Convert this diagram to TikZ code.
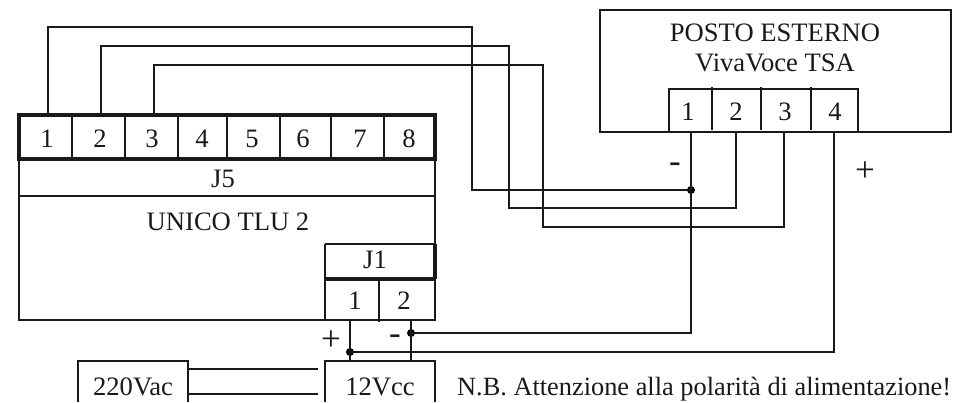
\documentclass[tikz,border=0pt]{standalone}
\usepackage{fontspec}
\setmainfont{Liberation Serif}
\tikzset{
  wire/.style={line width=1.7pt,black!90},
  frame/.style={line width=2.2pt,black!90},
  heavy/.style={line width=3.2pt,black!90},
  tick/.style={line width=1.7pt,black!90},
  lbl/.style={anchor=base,inner sep=0pt,font=\fontsize{26.6}{30}\selectfont,text=black!90},
  polarity/.style={inner sep=0pt,font=\fontsize{35}{35}\selectfont,text=black!90},
  junction/.style={circle,fill=black,inner sep=0pt,minimum size=8pt},
}
\begin{document}
\begin{tikzpicture}[x=1pt,y=-1pt]
\useasboundingbox (0,0) rectangle (959,402);
% anchors on the boxes
\foreach \n/\x/\y in {a1/48/115,a2/101/115,a3/154/115,b1/691/132,b2/736/132,b3/784/132,b4/834/132,
  c1/350/320,c2/411/320,d1/350/361,d2/411/361,e1/188/369,e2/188/394,f1/318/369,f2/318/394}
  \coordinate (\n) at (\x,\y);
\node[junction] (jm) at (691,190) {};
\node[junction] (jn) at (411,333) {};
\node[junction] (jp) at (350,352) {};
% wires
\draw[wire] (a1) |- (472,27) |- (jm.center);
\draw[wire] (a2) |- (509,46) |- (736,208) -- (b2);
\draw[wire] (a3) |- (543,65) |- (784,227) -- (b3);
\draw[wire] (b1) -- (jm.center) |- (jn.center);
\draw[wire] (b4) |- (jp.center);
\draw[wire] (c1) -- (d1);
\draw[wire] (c2) -- (d2);
\draw[wire] (e1) -- (f1);
\draw[wire] (e2) -- (f2);
% UNICO TLU 2
\draw[frame] (19,115) -- (19,320) -- (435,320) -- (435,115);
\draw[frame] (19,196) -- (435,196);
\draw[heavy] (19,115) rectangle (435,159);
\foreach \x in {72,125,178,227,280,331,384} \draw[tick] (\x,113) -- (\x,157);
% J1
\draw[frame] (325,244) -- (436,244);
\draw[frame] (325,244) -- (325,320);
\draw[heavy] (325,279) -- (436,279);
\draw[heavy] (435,244) -- (435,279);
\draw[tick] (379,279) -- (379,322);
% POSTO ESTERNO
\draw[frame] (600,10) rectangle (951,132);
\draw[frame,fill=white] (669,89) rectangle (858,132);
\foreach \x in {712,761,811} \draw[tick] (\x,87) -- (\x,130);
% supplies
\draw[frame] (78,402) -- (78,361) -- (188,361) -- (188,402);
\draw[frame] (325,402) -- (325,361) -- (435,361) -- (435,402);
% labels
\foreach \n/\x/\t in {p1/47/1,p2/100/2,p3/152/3,p4/202/4,p5/252/5,p6/303/6,p7/360/7,p8/409/8}
  \node[lbl] (\n) at (\x,147) {\t};
\node[lbl] (j5) at (223,187) {J5};
\node[lbl] (unico) at (228,230) {UNICO TLU 2};
\node[lbl] (j1) at (375,268) {J1};
\node[lbl] (q1) at (355,309) {1};
\node[lbl] (q2) at (404,309) {2};
\node[lbl] (posto) at (775,41) {POSTO ESTERNO};
\node[lbl] (viva) at (775,71) {VivaVoce TSA};
\foreach \n/\x/\t in {r1/688/1,r2/736/2,r3/785/3,r4/835/4}
  \node[lbl] (\n) at (\x,120) {\t};
\node[lbl] (ac) at (133,395) {220Vac};
\node[lbl] (dc) at (380,395) {12Vcc};
\node[lbl,anchor=base west,font=\fontsize{26.35}{30}\selectfont] (nb) at (457,395) {N.B. Attenzione alla polarità di alimentazione!};
\node[polarity] (s1) at (675,168) {-};
\node[polarity] (s2) at (865,172) {+};
\node[polarity] (s3) at (331,341) {+};
\node[polarity] (s4) at (395,340) {-};
\end{tikzpicture}
\end{document}
